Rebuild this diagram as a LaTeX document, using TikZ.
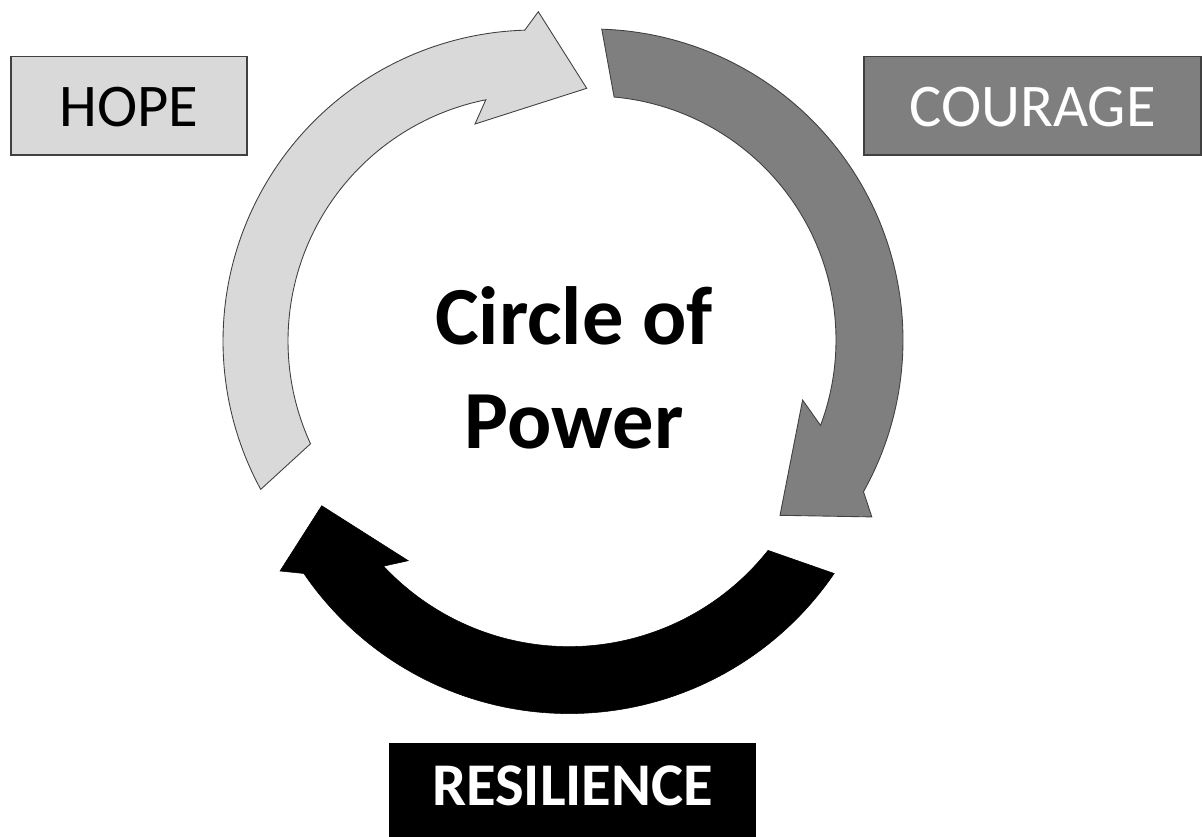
\documentclass[tikz,border=0pt]{standalone}
\usepackage{fontspec}
\setmainfont{Carlito}
\definecolor{lightg}{HTML}{D9D9D9}
\definecolor{midg}{HTML}{7F7F7F}
\definecolor{edgeg}{HTML}{404040}
\begin{document}
\begin{tikzpicture}[x=0.02cm,y=-0.02cm,
  lightarrow/.style={fill=lightg,draw=edgeg,line width=0.5pt,line join=miter},
  midarrow/.style={fill=midg,draw=edgeg,line width=0.5pt,line join=miter},
  darkarrow/.style={fill=black,draw=black,line width=0.3pt,line join=miter},
  labelbox/.style={draw=edgeg,line width=0.8pt,inner sep=0pt,minimum height=1.97cm,
    text height=0.84cm,text depth=0pt,font=\fontsize{34.5}{40}\selectfont},
  titletext/.style={anchor=base,font=\bfseries\fontsize{47}{55}\selectfont}
]
\useasboundingbox (0,0) rectangle (1202,836);
% HOPE arrow (light grey)
\path[lightarrow]
  plot[domain=151.5:268.3,samples=90] ({534+311*cos(\x)},{341+311*sin(\x)})
  -- (538.3,11.7) -- (586.7,88.3) -- (475,124)
  -- plot[domain=258.7:155.3,samples=90] ({534+246*cos(\x)},{341+246*sin(\x)})
  -- cycle;
% COURAGE arrow (mid grey)
\path[midarrow]
  plot[domain=-88.2:29.2,samples=90] ({592+311*cos(\x)},{340+311*sin(\x)})
  -- (871.8,516.9) -- (780,515.3) -- (802.6,400)
  -- plot[domain=20.5:-84.8,samples=90] ({592+244*cos(\x)},{340+244*sin(\x)})
  -- cycle;
% RESILIENCE arrow (black)
\path[darkarrow]
  plot[domain=34.3:145.7,samples=90] ({569+321*cos(\x)},{392.6+321*sin(\x)})
  -- (280,571) -- (321.7,505.7) -- (408.3,560.7)
  -- plot[domain=136.9:38.4,samples=90] ({569+254*cos(\x)},{392.6+254*sin(\x)})
  -- cycle;
% labels
\node[labelbox,fill=lightg,minimum width=4.72cm] (hope) at (129,105.7) {HOPE};
\node[labelbox,fill=midg,text=white,minimum width=6.74cm] (courage) at (1032.5,105.8) {COURAGE};
\node[labelbox,fill=black,draw=black,text=white,minimum width=7.3cm,minimum height=1.854cm,
  text height=0.834cm,text depth=0.222cm,font=\bfseries\fontsize{34.5}{40}\selectfont]
  (resilience) at (572.5,789.7) {RESILIENCE};
\node[titletext] (title1) at (574,344) {Circle of};
\node[titletext] (title2) at (574,448) {Power};
\end{tikzpicture}
\end{document}
